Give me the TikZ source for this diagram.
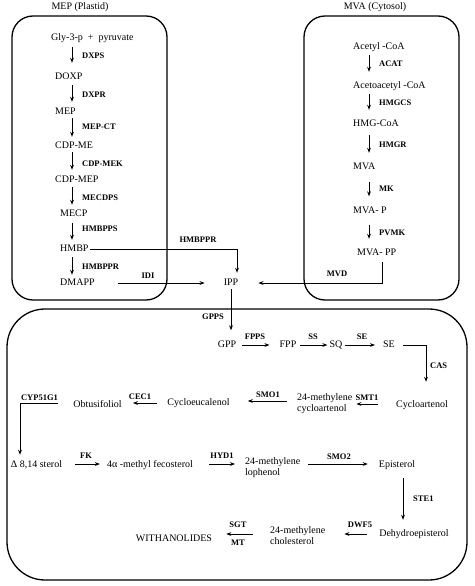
\documentclass[tikz,border=0pt]{standalone}
\usepackage{fontspec}
\setmainfont{Liberation Serif}
\usetikzlibrary{arrows.meta,calc}
\tikzset{
 txt/.style={inner sep=0pt, font=\fontsize{10}{11}\selectfont, text height=7pt, text depth=2pt},
 txttwo/.style={inner sep=0pt, font=\fontsize{10}{11}\selectfont, align=left},
 lab/.style={inner sep=0pt, font=\fontsize{8.5}{9}\selectfont\bfseries},
 arr/.style={line width=0.9pt, -{Stealth[length=5pt,width=3.8pt]}},
 panel/.style={line width=1.3pt},
}
\newcommand\vlink[5]{\draw[arr] ($(#1.south -| #3)+(0,#4)$) -- ($(#2.north -| #3)+(0,-#5)$);}
\begin{document}
\begin{tikzpicture}[x=1pt,y=-1pt]
\useasboundingbox (0,0) rectangle (474,586);
% panels
\draw[panel, rounded corners=21pt] (12,16) rectangle (167,300);
\draw[panel, rounded corners=21pt] (304,16) rectangle (459,300);
\draw[panel, rounded corners=38pt] (7,309) rectangle (467,580);
\node[txt] (mept) at (80,7) {MEP (Plastid)};
\node[txt] (mvat) at (375,7) {MVA (Cytosol)};
\coordinate (mepx) at (72,0);
\coordinate (mvax) at (369,0);
% MEP pathway
\node[txt,anchor=west] (gly) at (51,38) {Gly-3-p\enspace+\enspace pyruvate};
\node[txt,anchor=west] (doxp) at (55,77) {DOXP};
\node[txt,anchor=west] (mep) at (55,112) {MEP};
\node[txt,anchor=west] (cdpme) at (55,146) {CDP-ME};
\node[txt,anchor=west] (cdpmep) at (55,180) {CDP-MEP};
\node[txt,anchor=west] (mecp) at (60,214) {MECP};
\node[txt,anchor=west] (hmbp) at (60,249) {HMBP};
\node[txt,anchor=west] (dmapp) at (60,283) {DMAPP};
\vlink{gly}{doxp}{mepx}{4.5}{9.5}
\vlink{doxp}{mep}{mepx}{3.5}{5.5}
\vlink{mep}{cdpme}{mepx}{1.5}{4.5}
\vlink{cdpme}{cdpmep}{mepx}{1.5}{5.5}
\vlink{cdpmep}{mecp}{mepx}{2.5}{4.5}
\vlink{mecp}{hmbp}{mepx}{4.5}{4.5}
\vlink{hmbp}{dmapp}{mepx}{3.5}{3.5}
\node[lab,anchor=west] (l1) at (82,56) {DXPS};
\node[lab,anchor=west] (l2) at (82,95) {DXPR};
\node[lab,anchor=west] (l3) at (82,127) {MEP-CT};
\node[lab,anchor=west] (l4) at (82,164) {CDP-MEK};
\node[lab,anchor=west] (l5) at (82,198) {MECDPS};
\node[lab,anchor=west] (l6) at (82,229) {HMBPPS};
\node[lab,anchor=west] (l7) at (82,267) {HMBPPR};
% MVA pathway
\node[txt,anchor=west] (acoa) at (353,47) {Acetyl -CoA};
\node[txt,anchor=west] (aacoa) at (353,86) {Acetoacetyl -CoA};
\node[txt,anchor=west] (hmgcoa) at (353,124) {HMG-CoA};
\node[txt,anchor=west] (mva) at (353,167) {MVA};
\node[txt,anchor=west] (mvap) at (353,211) {MVA- P};
\node[txt,anchor=west] (mvapp) at (357,253) {MVA- PP};
\vlink{acoa}{aacoa}{mvax}{3.5}{9.5}
\vlink{aacoa}{hmgcoa}{mvax}{3.5}{9.5}
\vlink{hmgcoa}{mva}{mvax}{6.5}{9.5}
\vlink{mva}{mvap}{mvax}{10}{10}
\vlink{mvap}{mvapp}{mvax}{9.5}{9.5}
\node[lab,anchor=west] (m1) at (379,64) {ACAT};
\node[lab,anchor=west] (m2) at (379,103) {HMGCS};
\node[lab,anchor=west] (m3) at (379,145) {HMGR};
\node[lab,anchor=west] (m4) at (379,189) {MK};
\node[lab,anchor=west] (m5) at (379,233) {PVMK};
% IPP
\node[txt] (ipp) at (231,283) {IPP};
\draw[arr] ($(hmbp.east)+(1,0)$) -| ($(ipp.north)+(6,-5.5)$);
\node[lab] (lhm) at (198,240) {HMBPPR};
\draw[arr] ($(dmapp.east)+(23.5,0)$) -- ($(ipp.west)+(-19,0)$);
\node[lab] (lidi) at (148,276) {IDI};
\draw[arr] ($(mvapp.south -| 382,0)+(0,4.5)$) |- ($(ipp.east)+(20,0)$);
\node[lab] (lmvd) at (337,274) {MVD};
% sterol part
\node[txt] (gpp) at (227,345) {GPP};
\node[txt] (fpp) at (288,345) {FPP};
\node[txt] (sq) at (336,345) {SQ};
\node[txt] (se) at (389,345) {SE};
\draw[arr] ($(ipp.south)+(0,1.5)$) -- ($(gpp.north -| ipp.south)+(0,-10)$);
\node[lab] (lgpps) at (213,317) {GPPS};
\draw[arr] ($(gpp.east)+(6,0)$) -- ($(fpp.west)+(-10,0)$);
\node[lab] (lfpps) at (255,337) {FPPS};
\draw[arr] ($(fpp.east)+(3,0)$) -- ($(sq.west)+(-2,0)$);
\node[lab] (lss) at (313,337) {SS};
\draw[arr] ($(sq.east)+(2,0)$) -- ($(se.west)+(-8,0)$);
\node[lab] (lse) at (362,337) {SE};
\node[txt] (cycart) at (422,405) {Cycloartenol};
\draw[arr] ($(se.east)+(8,0)$) -| ($(cycart.north -| 426,0)+(0,-18.5)$);
\node[lab,anchor=west] (lcas) at (430,366) {CAS};
\node[txttwo,anchor=west] (mcyc) at (297,403.5) {24-methylene\\cycloartenol};
\draw[arr] ($(cycart.west |- 0,404)+(-18,0)$) -- ($(mcyc.east |- 0,404)+(4,0)$);
\node[lab] (lsmt) at (367,398) {SMT1};
\node[txt] (cyceu) at (198.5,403) {Cycloeucalenol};
\draw[arr] ($(mcyc.west |- 0,401)+(-10,0)$) -- ($(cyceu.east |- 0,401)+(18,0)$);
\node[lab] (lsmo1) at (268,395) {SMO1};
\node[txt] (obt) at (97.5,405) {Obtusifoliol};
\draw[arr] ($(cyceu.west |- 0,403)+(-10,0)$) -- ($(obt.east |- 0,403)+(11,0)$);
\node[lab] (lcec) at (140,397) {CEC1};
\node[txt] (delta) at (36.5,465) {Δ 8,14 sterol};
\draw[arr] ($(obt.west |- 0,403)+(-15,0)$) -| ($(delta.north -| 20,0)+(0,-5.5)$);
\node[lab] (lcyp) at (39.5,398) {CYP51G1};
\node[txt] (feco) at (150,465) {4α -methyl fecosterol};
\draw[arr] ($(delta.east |- 0,464)+(13,0)$) -- ($(feco.west |- 0,464)+(-7,0)$);
\node[lab] (lfk) at (86,456) {FK};
\node[txttwo,anchor=west] (loph) at (245,467.5) {24-methylene\\lophenol};
\draw[arr] ($(feco.east |- 0,464)+(16,0)$) -- ($(loph.west |- 0,464)+(-10,0)$);
\node[lab] (lhyd) at (222,456) {HYD1};
\node[txt] (epi) at (397,465) {Episterol};
\draw[arr] ($(loph.east |- 0,464)+(8,0)$) -- ($(epi.west |- 0,464)+(-11,0)$);
\node[lab] (lsmo2) at (339,457) {SMO2};
\node[txt] (dehyd) at (414,534) {Dehydroepisterol};
\draw[arr] ($(epi.south -| 403,0)+(0,8.5)$) -- ($(dehyd.north -| 403,0)+(0,-9.5)$);
\node[lab,anchor=west] (lste) at (413,499) {STE1};
\node[txttwo,anchor=west] (mchol) at (270,536) {24-methylene\\cholesterol};
\draw[arr] ($(dehyd.west |- 0,534)+(-12,0)$) -- ($(mchol.east |- 0,534)+(19,0)$);
\node[lab] (ldwf) at (360,525) {DWF5};
\node[txt] (withan) at (174,539) {WITHANOLIDES};
\draw[arr] ($(mchol.west |- 0,534)+(-17,0)$) -- ($(withan.east |- 0,534)+(14,0)$);
\node[lab] (lsgt) at (238,525) {SGT};
\node[lab] (lmt) at (238,543) {MT};
\end{tikzpicture}
\end{document}
